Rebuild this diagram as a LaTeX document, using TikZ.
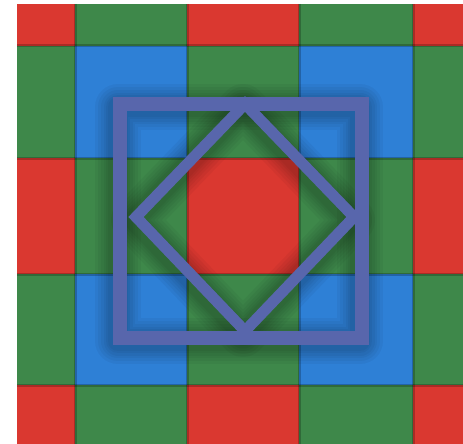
\documentclass[tikz,border=0pt]{standalone}
\definecolor{cred}{RGB}{218,56,48}
\definecolor{cgreen}{RGB}{62,136,74}
\definecolor{cblue}{RGB}{46,128,214}
\definecolor{cframe}{RGB}{88,102,172}
\tikzset{
  shadowline/.style={draw=black,line join=round},
  framestroke/.style={draw=cframe,line width=14pt},
  diamondstroke/.style={draw=cframe,line width=11pt},
  cellborder/.style={draw=black,opacity=0.22,line width=3pt}
}
\begin{document}
\begin{tikzpicture}[x=1pt,y=-1pt]
\fill[white] (0,0) rectangle (463,444);
\useasboundingbox (0,0) rectangle (463,444);
% cells
\foreach \xa/\xb/\i in {17/75/0,75/187/1,187/299/2,299/413/3,413/463/4}{
  \foreach \ya/\yb/\j in {4/46/0,46/158/1,158/274/2,274/385/3,385/444/4}{
    \pgfmathtruncatemacro\pi{mod(\i,2)}
    \pgfmathtruncatemacro\pj{mod(\j,2)}
    \ifnum\pi=0 \ifnum\pj=0 \def\cc{cred}\else\def\cc{cgreen}\fi
    \else \ifnum\pj=1 \def\cc{cblue}\else\def\cc{cgreen}\fi\fi
    \fill[\cc] (\xa,\ya) rectangle (\xb,\yb);
  }
}
% cell borders
\foreach \x in {75,187,299,413} \draw[cellborder] (\x,4) -- (\x,444);
\foreach \y in {46,158,274,385} \draw[cellborder] (17,\y) -- (463,\y);
% soft shadow
\begin{scope}[shift={(-2,3)}]
\foreach \w in {46,40,34,29,24,20}{
  \draw[shadowline,line width=\w pt,opacity=0.04] (120,104) rectangle (362,338);
  \draw[shadowline,line width=\w pt,opacity=0.04] (245,104) -- (136,217) -- (245,331) -- (354,217) -- cycle;
}
\end{scope}
% frame and diamond
\draw[framestroke] (120,104) rectangle (362,338);
\draw[diamondstroke] (245,104) -- (136,217) -- (245,331) -- (354,217) -- cycle;
\end{tikzpicture}
\end{document}
